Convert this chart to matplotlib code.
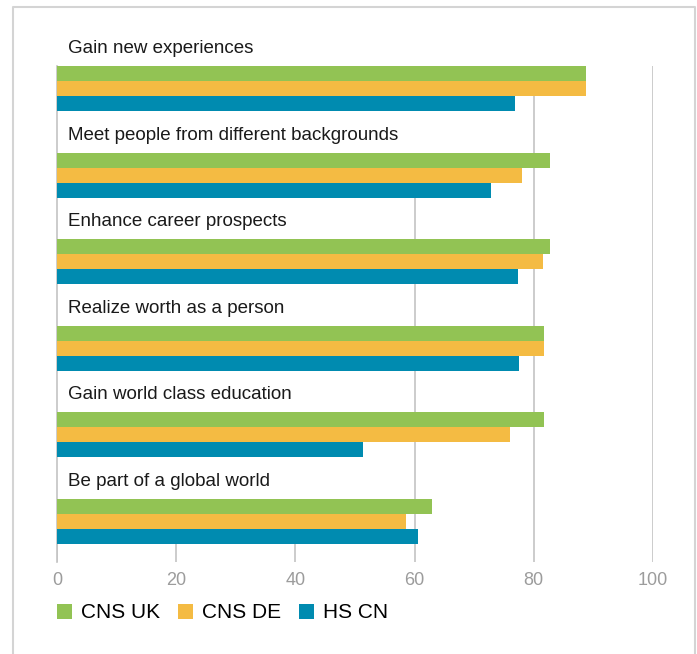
import matplotlib
matplotlib.use("Agg")
import matplotlib.pyplot as plt
from matplotlib.patches import Patch
from matplotlib.lines import Line2D
import numpy as np

plt.rcParams['font.family'] = ['Liberation Sans', 'DejaVu Sans']

categories = ["Gain new experiences",
              "Meet people from different backgrounds",
              "Enhance career prospects",
              "Realize worth as a person",
              "Gain world class education",
              "Be part of a global world"]
series = ["CNS UK", "CNS DE", "HS CN"]
cns_uk = [88.7, 82.8, 82.8, 81.7, 81.7, 63.0]
cns_de = [88.7, 78.1, 81.6, 81.7, 76.0, 58.6]
hs_cn = [76.8, 72.9, 77.4, 77.5, 51.4, 60.6]
colors = ["#92C354", "#F4BB43", "#008BB0"]

W, H = 697, 654
fig = plt.figure(figsize=(W / 100, H / 100), dpi=100)

# plot area in pixels: x 57..653, y 66..562
ax = fig.add_axes([57 / W, 1 - 562 / H, (653 - 57) / W, (562 - 66) / H])

pitch = 86.5          # px between groups
h = 15 / pitch        # bar height in group units
y0 = np.arange(len(categories))

for k, vals in enumerate([cns_uk, cns_de, hs_cn]):
    ax.barh(y0 + (k + 0.5) * h, vals, height=h, color=colors[k],
            zorder=3, linewidth=0)

# labels sit on a white box that hides the gridlines behind them
for i, lab in enumerate(categories):
    ax.text(1.85, i - 0.15, lab, fontsize=13.5, color="#1a1a1a",
            va="baseline", ha="left", zorder=2.2, clip_on=False,
            bbox=dict(boxstyle="square,pad=1.6", fc="white", ec="none"))

ax.set_xlim(0, 100)
ax.set_ylim((562 - 66) / pitch, 0)
ax.set_xticks([0, 20, 40, 60, 80, 100])
ax.set_yticks([])
ax.tick_params(axis="x", length=0, pad=7, labelsize=13, labelcolor="#9c9c9c")
ax.grid(axis="x", color="#c4c4c4", linewidth=1.2, zorder=1)
ax.set_axisbelow(True)
for s in ["top", "right", "bottom"]:
    ax.spines[s].set_visible(False)
ax.spines["left"].set_color("#c4c4c4")
ax.spines["left"].set_linewidth(1.2)

handles = [Patch(facecolor=c, edgecolor="none") for c in colors]
fig.legend(handles, series, loc="center left",
           bbox_to_anchor=(57 / W, 1 - 613 / H), ncol=3, frameon=False,
           fontsize=15, handlelength=0.72, handleheight=0.72,
           handletextpad=0.43, columnspacing=0.86, borderpad=0,
           borderaxespad=0)

# outer frame (left, top, right)
fx = [13 / W, 13 / W, 695 / W, 695 / W]
fy = [0, 1 - 7 / H, 1 - 7 / H, 0]
fig.add_artist(Line2D(fx, fy, color="#d4d4d4", linewidth=1.5))

fig.savefig("out.png", dpi=100)
